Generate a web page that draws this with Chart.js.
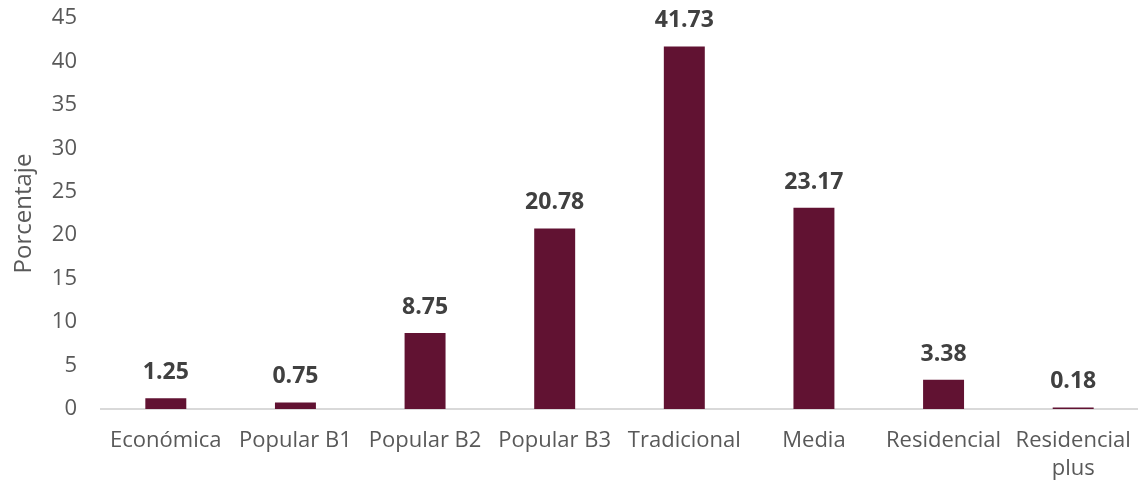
<!DOCTYPE html>
<html>
<head>
<meta charset="utf-8">
<title>Porcentaje por tipo de vivienda</title>
<script src="https://cdn.jsdelivr.net/npm/chart.js"></script>
<style>
    html, body { margin: 0; padding: 0; background: #ffffff; }
    #wrap { width: 1138px; height: 481px; position: relative; }
</style>
</head>
<body>
<div id="wrap"><canvas id="chart"></canvas></div>
<script>
// data
const categories = ['Económica', 'Popular B1', 'Popular B2', 'Popular B3', 'Tradicional', 'Media', 'Residencial', ['Residencial', 'plus']];
const percentages = [1.25, 0.75, 8.75, 20.78, 41.73, 23.17, 3.38, 0.18];
const yTicks = [0, 5, 10, 15, 20, 25, 30, 35, 40, 45];

const barColor = '#611232';
const textColor = '#595959';
const fontFamily = "'Open Sans', 'Noto Sans', sans-serif";

// bold value labels above each bar
const valueLabels = {
    id: 'valueLabels',
    afterDatasetsDraw(chart) {
        const ctx = chart.ctx;
        const meta = chart.getDatasetMeta(0);
        ctx.save();
        ctx.font = 'bold 23px ' + fontFamily;
        ctx.fillStyle = '#404040';
        ctx.textAlign = 'center';
        ctx.textBaseline = 'alphabetic';
        meta.data.forEach((bar, i) => {
            ctx.fillText(percentages[i].toFixed(2), bar.x, bar.y - 19);
        });
        ctx.restore();
    }
};

new Chart(document.getElementById('chart'), {
    type: 'bar',
    data: {
        labels: categories,
        datasets: [{
            label: 'Porcentaje',
            data: percentages,
            backgroundColor: barColor,
            borderWidth: 0,
            barPercentage: 0.316,
            categoryPercentage: 1.0
        }]
    },
    options: {
        responsive: true,
        maintainAspectRatio: false,
        animation: false,
        layout: { padding: { top: 18, right: 0, bottom: 0, left: 0 } },
        plugins: {
            legend: { display: false },
            tooltip: { enabled: false }
        },
        scales: {
            x: {
                grid: { display: false, drawTicks: false },
                border: { display: true, color: '#d9d9d9', width: 2 },
                ticks: {
                    color: textColor,
                    font: { family: fontFamily, size: 22, lineHeight: 1.3 },
                    padding: 17,
                    maxRotation: 0,
                    autoSkip: false
                },
                afterFit(scale) {
                    scale.height = 72;
                    scale.paddingLeft = 0;
                    scale.paddingRight = 0;
                }
            },
            y: {
                min: 0,
                max: 45,
                afterBuildTicks(scale) { scale.ticks = yTicks.map(v => ({ value: v })); },
                grid: { display: false, drawTicks: false },
                border: { display: false },
                ticks: {
                    color: textColor,
                    font: { family: fontFamily, size: 22 },
                    padding: 24
                },
                title: {
                    display: true,
                    text: 'Porcentaje',
                    color: textColor,
                    font: { family: fontFamily, size: 24 },
                    padding: { top: 10, bottom: 0 }
                },
                afterFit(scale) {
                    scale.width = 101;
                    scale.paddingTop = 0;
                    scale.paddingBottom = 0;
                }
            }
        }
    },
    plugins: [valueLabels]
});
</script>
</body>
</html>
